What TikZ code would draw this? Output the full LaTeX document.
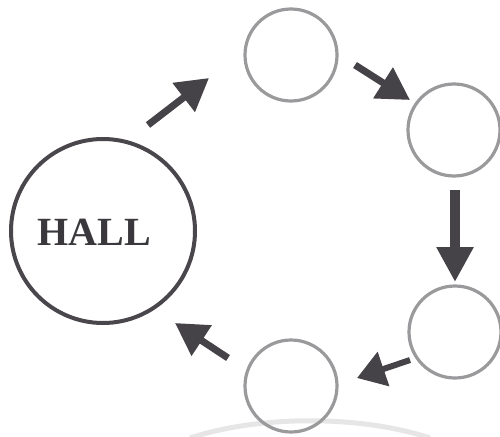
\documentclass[tikz,border=0pt]{standalone}
\usepackage{fontspec}
\setmainfont{Liberation Serif}
\usetikzlibrary{arrows.meta}
\definecolor{arrowgray}{HTML}{454248}
\definecolor{hallgray}{HTML}{4A474C}
\definecolor{ringgray}{HTML}{9A9A9C}
\definecolor{textgray}{HTML}{3A383C}
\definecolor{fadegray}{HTML}{E6E6E6}
\tikzset{
  hallring/.style={circle, draw=hallgray, line width=4pt, minimum size=184pt, inner sep=0pt},
  ring/.style={circle, draw=ringgray, line width=3.2pt, minimum size=92pt, inner sep=0pt},
  flowarrow/.style={draw=arrowgray, line width=7pt, -{Triangle[length=32pt,width=35pt]}},
  bigarrow/.style={draw=arrowgray, line width=10pt, -{Triangle[length=35pt,width=35pt]}},
  halltext/.style={font=\fontsize{40}{48}\selectfont\bfseries, text=textgray, inner sep=0pt}
}
\begin{document}
\begin{tikzpicture}[x=1pt,y=-1pt]
\useasboundingbox (0,0) rectangle (500,436);
% faint arc at bottom
\draw[fadegray, line width=5pt] (190,438) .. controls (260,415) and (360,415) .. (430,438);
\node[hallring] (hall) at (103,231) {};
\node[halltext] (halllabel) at (94,232) {HALL};
\node[ring] (r1) at (291,55) {};
\node[ring] (r2) at (454,130) {};
\node[ring] (r3) at (455,332) {};
\node[ring] (r4) at (291,386) {};
\coordinate (a1s) at (148,125); \coordinate (a1e) at (209,78);
\coordinate (a2s) at (355,65);  \coordinate (a2e) at (410,100);
\coordinate (a3s) at (455,190); \coordinate (a3e) at (455,282);
\coordinate (a4s) at (410,360); \coordinate (a4e) at (357,378);
\coordinate (a5s) at (228,358); \coordinate (a5e) at (175,323);
\draw[flowarrow] (a1s) -- (a1e);
\draw[flowarrow] (a2s) -- (a2e);
\draw[bigarrow] (a3s) -- (a3e);
\draw[flowarrow, line width=6pt, -{Triangle[length=28pt,width=35pt]}] (a4s) -- (a4e);
\draw[flowarrow] (a5s) -- (a5e);
\end{tikzpicture}
\end{document}
